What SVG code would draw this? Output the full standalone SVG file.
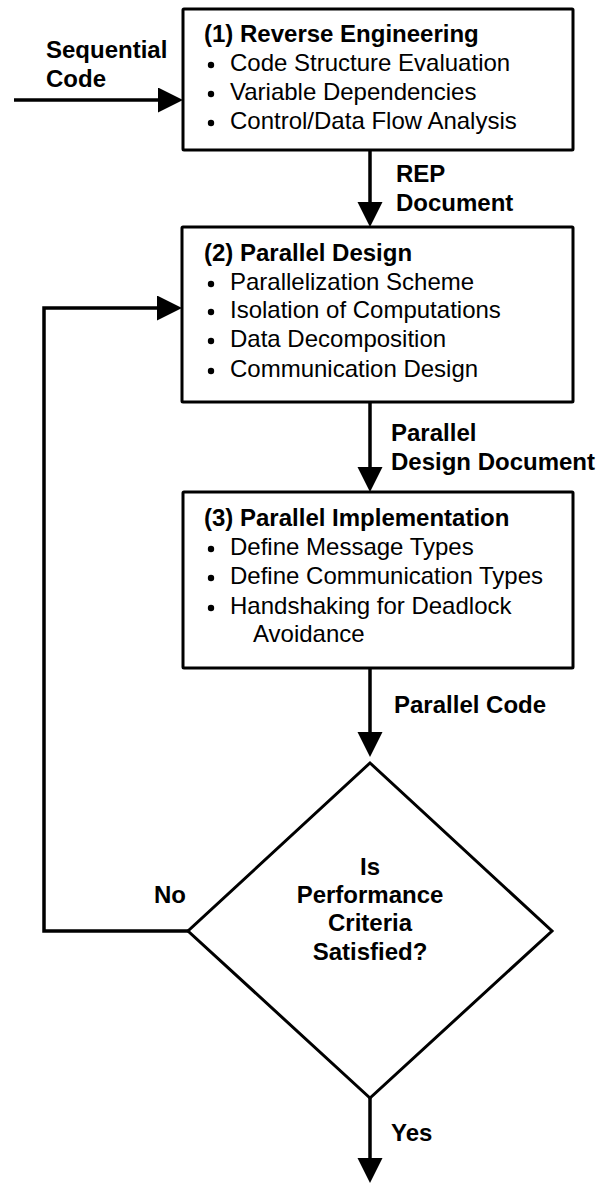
<svg xmlns="http://www.w3.org/2000/svg" width="611" height="1185" viewBox="0 0 611 1185">
  <style>
    .box { fill: #fff; stroke: #000; stroke-width: 3; }
    .dia { fill: #fff; stroke: #000; stroke-width: 3; stroke-linejoin: miter; }
    .t { font-family: "Liberation Sans", Arial, sans-serif; font-size: 24px; fill: #000; }
    .b { font-weight: bold; }
    .mid { text-anchor: middle; }
    .conn { fill: none; stroke: #000; stroke-width: 3.5; }
    .dot { fill: #000; }
  </style>
  <defs>
    <marker id="arrow" markerUnits="userSpaceOnUse" markerWidth="26" markerHeight="26" refX="15" refY="12.5" orient="auto">
      <path d="M0,0 L25,12.5 L0,25 z" fill="#000"/>
    </marker>
  </defs>

  <rect width="611" height="1185" fill="#fff"/>

  <!-- connectors -->
  <g id="connectors">
    <line class="conn" x1="14" y1="100" x2="173" y2="100" marker-end="url(#arrow)"/>
    <line class="conn" x1="370" y1="150" x2="370" y2="217" marker-end="url(#arrow)"/>
    <line class="conn" x1="370" y1="402" x2="370" y2="482" marker-end="url(#arrow)"/>
    <line class="conn" x1="370" y1="668" x2="370" y2="747" marker-end="url(#arrow)"/>
    <line class="conn" x1="370" y1="1098" x2="370" y2="1173" marker-end="url(#arrow)"/>
    <polyline class="conn" points="188,931 44,931 44,308 172,308" marker-end="url(#arrow)"/>
    <text class="t b" x="46" y="58">Sequential</text>
    <text class="t b" x="46" y="87">Code</text>
    <text class="t b" x="396" y="182">REP</text>
    <text class="t b" x="396" y="211">Document</text>
    <text class="t b" x="391" y="441">Parallel</text>
    <text class="t b" x="391" y="470">Design Document</text>
    <text class="t b" x="394" y="713">Parallel Code</text>
    <text class="t b" x="154" y="903">No</text>
    <text class="t b" x="391" y="1141">Yes</text>
  </g>

  <!-- (1) Reverse Engineering -->
  <g id="reverse-engineering">
    <rect class="box" x="183" y="9" width="390" height="141" rx="1"/>
    <text class="t b" x="204" y="42">(1) Reverse Engineering</text>
    <circle class="dot" cx="211" cy="65" r="3.2"/>
    <text class="t" x="230" y="71">Code Structure Evaluation</text>
    <circle class="dot" cx="211" cy="94" r="3.2"/>
    <text class="t" x="230" y="100">Variable Dependencies</text>
    <circle class="dot" cx="211" cy="123" r="3.2"/>
    <text class="t" x="230" y="129">Control/Data Flow Analysis</text>
  </g>

  <!-- (2) Parallel Design -->
  <g id="parallel-design">
    <rect class="box" x="182" y="227" width="391" height="175" rx="1"/>
    <text class="t b" x="204" y="261">(2) Parallel Design</text>
    <circle class="dot" cx="211" cy="284" r="3.2"/>
    <text class="t" x="230" y="290">Parallelization Scheme</text>
    <circle class="dot" cx="211" cy="312" r="3.2"/>
    <text class="t" x="230" y="318">Isolation of Computations</text>
    <circle class="dot" cx="211" cy="341" r="3.2"/>
    <text class="t" x="230" y="347">Data Decomposition</text>
    <circle class="dot" cx="211" cy="371" r="3.2"/>
    <text class="t" x="230" y="377">Communication Design</text>
  </g>

  <!-- (3) Parallel Implementation -->
  <g id="parallel-implementation">
    <rect class="box" x="183" y="492" width="390" height="176" rx="1"/>
    <text class="t b" x="204" y="526">(3) Parallel Implementation</text>
    <circle class="dot" cx="211" cy="549" r="3.2"/>
    <text class="t" x="230" y="555">Define Message Types</text>
    <circle class="dot" cx="211" cy="578" r="3.2"/>
    <text class="t" x="230" y="584">Define Communication Types</text>
    <circle class="dot" cx="211" cy="608" r="3.2"/>
    <text class="t" x="230" y="614">Handshaking for Deadlock</text>
    <text class="t" x="253" y="642">Avoidance</text>
  </g>

  <!-- decision -->
  <g id="performance-check">
    <polygon class="dia" points="370,763 552,931 370,1098 188,931"/>
    <text class="t b mid" x="370" y="875">Is</text>
    <text class="t b mid" x="370" y="903">Performance</text>
    <text class="t b mid" x="370" y="931">Criteria</text>
    <text class="t b mid" x="370" y="960">Satisfied?</text>
  </g>
</svg>
